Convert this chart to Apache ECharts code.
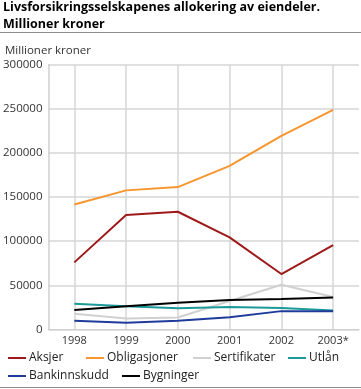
<!DOCTYPE html>
<html><head><meta charset="utf-8">
<script src="https://cdn.jsdelivr.net/npm/echarts@6/dist/echarts.min.js"></script>
<style>html,body{margin:0;padding:0;background:#fff}#c{width:361px;height:389px}</style>
</head><body><div id="c"></div>
<script>
const titleText = 'Livsforsikringsselskapenes allokering av eiendeler.\nMillioner kroner';
const unitLabel = 'Millioner kroner';
const categories = ['1998', '1999', '2000', '2001', '2002', '2003*'];
const yTicks = [0, 50000, 100000, 150000, 200000, 250000, 300000];
const seriesNames = ['Aksjer', 'Obligasjoner', 'Sertifikater', 'Utlån', 'Bankinnskudd', 'Bygninger'];
const aksjer = [76000, 129500, 133300, 104300, 62800, 95600];
const obligasjoner = [141600, 157500, 161200, 185300, 219200, 248600];
const sertifikater = [17800, 12500, 13600, 32200, 50600, 36800];
const utlan = [29200, 26200, 24000, 25500, 24300, 21500];
const bankinnskudd = [10000, 7600, 10000, 13800, 20800, 20800];
const bygninger = [22100, 26200, 30200, 33400, 34600, 36200];

const colors = ['#9e1a1a', '#f7962e', '#d0d0d0', '#1c9a9a', '#1f3c9c', '#000000'];
const values = [aksjer, obligasjoner, sertifikater, utlan, bankinnskudd, bygninger];
const FONT = '"Open Sans", sans-serif';

const legendPos = [[8, 352], [86, 352], [193, 352], [288, 352], [8, 370], [122, 370]];

const chart = echarts.init(document.getElementById('c'));
chart.setOption({
  animation: false,
  backgroundColor: '#fff',
  title: {
    text: titleText, left: 3, top: -1, padding: 0,
    textStyle: { fontFamily: FONT, fontSize: 12.5, fontWeight: 'bold', color: '#000', lineHeight: 17 }
  },
  graphic: [
    { type: 'line', shape: { x1: 0, y1: 32.5, x2: 361, y2: 32.5 }, style: { stroke: '#8c8c8c', lineWidth: 1 } },
    { type: 'line', shape: { x1: 0, y1: 387.5, x2: 361, y2: 387.5 }, style: { stroke: '#8c8c8c', lineWidth: 1 } },
    { type: 'text', left: 5, top: 45, style: { text: unitLabel, font: '11.5px ' + FONT, fill: '#333' } }
  ],
  legend: seriesNames.map((n, i) => ({
    data: [n], left: legendPos[i][0], top: legendPos[i][1], padding: 0,
    icon: 'rect', itemWidth: 18, itemHeight: 2, itemGap: 0,
    textStyle: { fontFamily: FONT, fontSize: 12, color: '#222', padding: [0, 0, 0, -2] }
  })),
  grid: { left: 47, right: 2, top: 64.5, bottom: 59.5, containLabel: false },
  xAxis: {
    type: 'category', data: categories, boundaryGap: true,
    axisLine: { show: true, lineStyle: { color: '#cfcfcf', width: 1 } },
    axisTick: { show: false },
    axisLabel: { fontFamily: FONT, fontSize: 11, color: '#333', margin: 6 },
    splitLine: { show: true, alignWithLabel: true, lineStyle: { color: '#d6d6d6', width: 1.5 } }
  },
  yAxis: {
    type: 'value', min: 0, max: 300000, interval: 50000,
    axisLine: { show: true, lineStyle: { color: '#cfcfcf', width: 1.5 } },
    axisTick: { show: false },
    axisLabel: { fontFamily: FONT, fontSize: 11.5, color: '#333', margin: 6,
      formatter: v => yTicks.includes(v) ? String(v) : '' },
    splitLine: { lineStyle: { color: '#e0e0e0', width: 2 } }
  },
  series: seriesNames.map((n, i) => ({
    name: n, type: 'line', data: values[i], symbol: 'none',
    lineStyle: { color: colors[i], width: 2 }, itemStyle: { color: colors[i] },
    z: i === 2 ? 1 : 2
  }))
});
</script></body></html>
